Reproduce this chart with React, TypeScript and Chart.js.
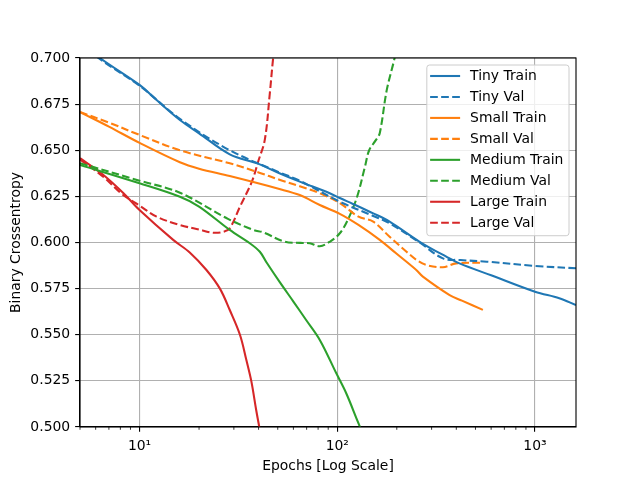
import React, { useEffect, useRef } from "react";
import { Chart, registerables } from "chart.js";

Chart.register(...registerables);

// ---- Data ----
const tinyTrainEpochs = [5, 6.3, 10, 12.2, 16, 20, 28.6, 40, 51, 64.6, 91.6, 103, 120, 152, 184, 261, 356, 415, 600, 1000, 1327, 1612];
const tinyTrainLoss = [0.709, 0.7, 0.6854, 0.6772, 0.6664, 0.6592, 0.6478, 0.6426, 0.6375, 0.633, 0.6267, 0.6241, 0.6209, 0.6158, 0.6113, 0.6004, 0.5923, 0.5887, 0.5822, 0.5733, 0.5698, 0.5661];

const tinyValEpochs = [5, 6.2, 10, 16, 28.6, 51, 64.6, 103, 152, 184, 261, 342, 420, 571, 1000, 1612];
const tinyValLoss = [0.709, 0.7, 0.685, 0.667, 0.65, 0.638, 0.6335, 0.6221, 0.6144, 0.6104, 0.6, 0.5914, 0.5905, 0.5896, 0.5873, 0.586];

const smallTrainEpochs = [5, 7, 10, 16, 20, 28.6, 51, 64.6, 81.6, 103, 128, 164, 199, 251, 271, 370, 427, 545];
const smallTrainLoss = [0.6707, 0.6628, 0.654, 0.6435, 0.64, 0.636, 0.629, 0.6257, 0.6203, 0.6155, 0.6095, 0.6014, 0.594, 0.5851, 0.5815, 0.5715, 0.5685, 0.5635];

const smallValEpochs = [5, 7, 10, 16, 28.6, 40, 51, 64.6, 81.6, 103, 128, 152, 184, 224, 252, 282, 342, 399, 545];
const smallValLoss = [0.6707, 0.665, 0.6583, 0.65, 0.6429, 0.638, 0.634, 0.6305, 0.6267, 0.6214, 0.614, 0.6113, 0.6031, 0.595, 0.5905, 0.5878, 0.5866, 0.5887, 0.589];

const mediumTrainEpochs = [5, 10, 16, 20, 28.6, 36.1, 40.6, 44, 51.2, 60, 69.6, 81.6, 98.9, 111, 127, 135];
const mediumTrainLoss = [0.642, 0.6321, 0.6248, 0.6195, 0.6068, 0.5996, 0.595, 0.589, 0.5785, 0.568, 0.558, 0.5472, 0.5291, 0.5183, 0.5029, 0.496];

const mediumValEpochs = [5, 10, 16, 28, 37.7, 42.2, 54.3, 65, 72.6, 81.6, 91.6, 103, 113, 126, 138, 145, 157, 164, 178, 195, 205];
const mediumValLoss = [0.643, 0.6335, 0.627, 0.6128, 0.6068, 0.6055, 0.6004, 0.5998, 0.5996, 0.598, 0.6004, 0.605, 0.6122, 0.6248, 0.641, 0.65, 0.6556, 0.6592, 0.6827, 0.7, 0.712];

const largeTrainEpochs = [5, 6.5, 8.3, 10, 14.8, 18, 21.8, 25.5, 28.6, 32.2, 34.7, 36.8, 38.9, 40.3, 42];
const largeTrainLoss = [0.6457, 0.637, 0.6267, 0.6176, 0.6014, 0.5945, 0.5851, 0.575, 0.5634, 0.55, 0.5363, 0.5246, 0.5092, 0.5002, 0.49];

const largeValEpochs = [5, 6.5, 8.2, 10, 12.2, 16, 20, 23.6, 26.5, 28.6, 32.2, 37, 39.8, 43, 45.6, 47.4, 49];
const largeValLoss = [0.645, 0.636, 0.626, 0.62, 0.614, 0.6095, 0.607, 0.6053, 0.6058, 0.6077, 0.6194, 0.633, 0.6438, 0.6556, 0.6809, 0.7, 0.712];

const seriesNames = ["Tiny Train", "Tiny Val", "Small Train", "Small Val", "Medium Train", "Medium Val", "Large Train", "Large Val"];
const yTickValues = [0.5, 0.525, 0.55, 0.575, 0.6, 0.625, 0.65, 0.675, 0.7];
const xMajorTicks = [10, 100, 1000];
const xMajorLabels = ["10\u00B9", "10\u00B2", "10\u00B3"];
const xMin = 5;
const xMax = 1612;
const yMin = 0.5;
const yMax = 0.7;

const BLUE = "#1f77b4";
const ORANGE = "#ff7f0e";
const GREEN = "#2ca02c";
const RED = "#d62728";
const LW = 2.08;
const DASH = [7.7, 3.33];
const FONT = "'DejaVu Sans', sans-serif";
const FS = 13.9;
const TICK_MAJOR = 4.86;
const TICK_MINOR = 2.78;
const THIN = 1.11;

const toPoints = (xs: number[], ys: number[]) => xs.map((x, i) => ({ x, y: ys[i] }));

const seriesDefs = [
  { xs: tinyTrainEpochs, ys: tinyTrainLoss, color: BLUE, dash: false },
  { xs: tinyValEpochs, ys: tinyValLoss, color: BLUE, dash: true },
  { xs: smallTrainEpochs, ys: smallTrainLoss, color: ORANGE, dash: false },
  { xs: smallValEpochs, ys: smallValLoss, color: ORANGE, dash: true },
  { xs: mediumTrainEpochs, ys: mediumTrainLoss, color: GREEN, dash: false },
  { xs: mediumValEpochs, ys: mediumValLoss, color: GREEN, dash: true },
  { xs: largeTrainEpochs, ys: largeTrainLoss, color: RED, dash: false },
  { xs: largeValEpochs, ys: largeValLoss, color: RED, dash: true },
];

const isMajor = (v: number) => xMajorTicks.some((m) => Math.abs(m - v) < 1e-9);

const framePlugin = {
  id: "frameAndLegend",
  afterDraw(chart: any) {
    const { ctx, chartArea } = chart;
    const { left, right, top, bottom } = chartArea;
    ctx.save();
    // minor ticks on x
    const xs = chart.scales.x;
    ctx.strokeStyle = "#000";
    ctx.lineWidth = 0.8;
    xs.ticks.forEach((t: any) => {
      if (!isMajor(t.value)) {
        const px = xs.getPixelForValue(t.value);
        ctx.beginPath();
        ctx.moveTo(px, bottom);
        ctx.lineTo(px, bottom + TICK_MINOR);
        ctx.stroke();
      }
    });
    // frame (spines)
    ctx.lineWidth = THIN;
    ctx.strokeStyle = "#000";
    ctx.strokeRect(left, top, right - left, bottom - top);

    // legend
    ctx.font = `${FS}px ${FONT}`;
    let maxW = 0;
    chart.data.datasets.forEach((d: any) => {
      maxW = Math.max(maxW, ctx.measureText(d.label).width);
    });
    const boxW = 43.3 + maxW + 5.6;
    const rowH = 20.96;
    const boxH = 11 + rowH * (chart.data.datasets.length - 1) + 13;
    const bx = right - 7 - boxW;
    const by = top + 7;
    const r = 2.8;
    ctx.beginPath();
    ctx.moveTo(bx + r, by);
    ctx.lineTo(bx + boxW - r, by);
    ctx.quadraticCurveTo(bx + boxW, by, bx + boxW, by + r);
    ctx.lineTo(bx + boxW, by + boxH - r);
    ctx.quadraticCurveTo(bx + boxW, by + boxH, bx + boxW - r, by + boxH);
    ctx.lineTo(bx + r, by + boxH);
    ctx.quadraticCurveTo(bx, by + boxH, bx, by + boxH - r);
    ctx.lineTo(bx, by + r);
    ctx.quadraticCurveTo(bx, by, bx + r, by);
    ctx.closePath();
    ctx.fillStyle = "rgba(255,255,255,0.8)";
    ctx.fill();
    ctx.strokeStyle = "#cccccc";
    ctx.lineWidth = 1;
    ctx.stroke();

    chart.data.datasets.forEach((d: any, i: number) => {
      const cy = by + 11 + rowH * i;
      ctx.beginPath();
      ctx.strokeStyle = d.borderColor;
      ctx.lineWidth = LW;
      ctx.setLineDash(d.borderDash || []);
      ctx.moveTo(bx + 3.3, cy);
      ctx.lineTo(bx + 33.3, cy);
      ctx.stroke();
      ctx.setLineDash([]);
      ctx.fillStyle = "#000";
      ctx.textBaseline = "middle";
      ctx.textAlign = "left";
      ctx.fillText(d.label, bx + 43.3, cy + 0.5);
    });
    ctx.restore();
  },
};

export default function App() {
  const canvasRef = useRef<HTMLCanvasElement | null>(null);

  useEffect(() => {
    if (!canvasRef.current) return;
    Chart.defaults.font.family = FONT;
    Chart.defaults.font.size = FS;
    Chart.defaults.color = "#000";

    const datasets = seriesDefs.map((s, i) => ({
      label: seriesNames[i],
      data: toPoints(s.xs, s.ys),
      borderColor: s.color,
      backgroundColor: s.color,
      borderWidth: LW,
      borderDash: s.dash ? DASH : [],
      pointRadius: 0,
      fill: false,
      tension: 0.35,
    }));

    const chart = new Chart(canvasRef.current, {
      type: "line",
      data: { datasets },
      plugins: [framePlugin],
      options: {
        animation: false,
        responsive: false,
        devicePixelRatio: 1,
        layout: { padding: { left: 0, right: 64, top: 58, bottom: 0 } },
        plugins: { legend: { display: false }, tooltip: { enabled: false } },
        scales: {
          x: {
            type: "logarithmic",
            min: xMin,
            max: xMax,
            afterBuildTicks: (scale: any) => {
              const ticks: any[] = [];
              [1, 10, 100, 1000].forEach((dec) => {
                for (let m = 1; m <= 9; m++) {
                  const v = m * dec;
                  if (v >= xMin && v <= xMax) ticks.push({ value: v, major: m === 1 });
                }
              });
              scale.ticks = ticks;
            },
            afterFit: (scale: any) => {
              scale.height = 53;
            },
            ticks: {
              autoSkip: false,
              maxRotation: 0,
              minRotation: 0,
              padding: 6,
              color: "#000",
              font: { size: FS, family: FONT },
              callback: (v: any) => {
                const idx = xMajorTicks.findIndex((m) => Math.abs(m - Number(v)) < 1e-9);
                return idx >= 0 ? xMajorLabels[idx] : "";
              },
            },
            grid: {
              color: (c: any) => (c.tick && isMajor(c.tick.value) ? "#b0b0b0" : "rgba(0,0,0,0)"),
              tickColor: (c: any) => (c.tick && isMajor(c.tick.value) ? "#000" : "rgba(0,0,0,0)"),
              lineWidth: THIN,
              tickLength: TICK_MAJOR,
              tickWidth: THIN,
            },
            border: { display: true, color: "#000", width: THIN },
            title: {
              display: true,
              text: "Epochs [Log Scale]",
              color: "#000",
              font: { size: FS, family: FONT },
              padding: { top: 0, bottom: 5 },
            },
          },
          y: {
            type: "linear",
            min: yMin,
            max: yMax,
            afterBuildTicks: (scale: any) => {
              scale.ticks = yTickValues.map((v) => ({ value: v }));
            },
            afterFit: (scale: any) => {
              scale.width = 80;
            },
            ticks: {
              padding: 5,
              color: "#000",
              font: { size: FS, family: FONT },
              callback: (v: any) => Number(v).toFixed(3),
            },
            grid: {
              color: "#b0b0b0",
              lineWidth: THIN,
              tickColor: "#000",
              tickLength: TICK_MAJOR,
              tickWidth: THIN,
            },
            border: { display: true, color: "#000", width: THIN },
            title: {
              display: true,
              text: "Binary Crossentropy",
              color: "#000",
              font: { size: FS, family: FONT },
              padding: { top: 8, bottom: 0 },
            },
          },
        },
      },
    });
    return () => chart.destroy();
  }, []);

  return (
    <div style={{ position: "fixed", left: 0, top: 0, width: 640, height: 480, background: "#fff" }}>
      <canvas ref={canvasRef} width={640} height={480} style={{ width: 640, height: 480 }} />
    </div>
  );
}
